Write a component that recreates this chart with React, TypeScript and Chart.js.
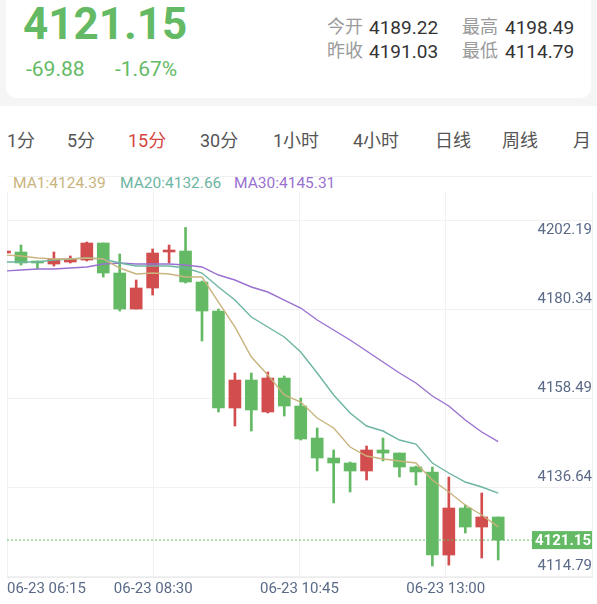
import React, { useEffect, useRef } from "react";
import { Chart, registerables } from "chart.js";

Chart.register(...registerables);

// ---------- data ----------
const DATE = "06-23";
const TIMES = [
  "06:15", "06:30", "06:45", "07:00", "07:15", "07:30", "07:45", "08:00", "08:15", "08:30",
  "08:45", "09:00", "09:15", "09:30", "09:45", "10:00", "10:15", "10:30", "10:45", "11:00",
  "11:15", "11:30", "11:45", "12:00", "12:15", "12:30", "12:45", "13:00", "13:15", "13:30", "13:45",
];
const OPEN = [
  4191.63, 4191.88, 4189.67, 4188.93, 4189.42, 4189.91, 4194.09, 4186.72, 4177.88, 4183.04,
  4191.88, 4192.12, 4184.51, 4177.39, 4153.58, 4160.45, 4152.6, 4160.94, 4154.07, 4146.21,
  4141.3, 4140.08, 4138.11, 4143.27, 4142.53, 4139.09, 4137.87, 4117.49, 4129.03, 4124.36, 4126.82,
];
const CLOSE = [
  4191.95, 4189.18, 4189.18, 4190.16, 4190.16, 4194.09, 4186.72, 4177.88, 4183.04, 4191.63,
  4192.12, 4184.51, 4177.39, 4153.58, 4160.45, 4153.09, 4160.94, 4154.07, 4145.97, 4141.3,
  4140.08, 4138.11, 4143.27, 4142.53, 4139.09, 4137.87, 4117.49, 4129.03, 4124.36, 4126.82, 4121.15,
];
const HIGH = [
  4192.2, 4193.6, 4189.67, 4191.88, 4190.9, 4194.33, 4194.09, 4191.39, 4185.0, 4192.62,
  4193.6, 4197.9, 4184.76, 4177.88, 4162.17, 4162.17, 4162.42, 4161.44, 4156.03, 4148.67,
  4143.27, 4140.32, 4144.25, 4146.21, 4142.53, 4139.33, 4139.09, 4136.64, 4129.76, 4132.71, 4126.82,
];
const LOW = [
  4191.4, 4188.69, 4187.7, 4188.44, 4189.18, 4189.67, 4185.74, 4177.39, 4177.88, 4181.32,
  4189.18, 4184.27, 4170.03, 4152.6, 4149.16, 4147.93, 4152.35, 4151.61, 4145.72, 4138.11,
  4130.26, 4132.96, 4135.9, 4140.57, 4136.64, 4134.67, 4114.79, 4115.0, 4122.89, 4116.75, 4116.26,
];
const MA1 = [
  4191.14, 4190.9, 4190.41, 4190.16, 4190.16, 4190.41, 4190.16, 4187.95, 4186.48, 4186.72,
  4186.48, 4185.74, 4185.74, 4179.6, 4173.47, 4166.1, 4161.68, 4156.77, 4155.05, 4151.12,
  4148.67, 4144.0, 4141.79, 4141.06, 4140.57, 4140.08, 4135.9, 4132.96, 4129.76, 4127.31, 4124.39,
];
const MA20 = [
  4189.42, 4189.42, 4189.42, 4189.91, 4190.16, 4190.41, 4190.16, 4189.18, 4188.44, 4188.44,
  4188.44, 4187.95, 4186.72, 4183.29, 4180.09, 4175.92, 4173.47, 4171.01, 4167.33, 4162.17,
  4156.77, 4152.35, 4149.16, 4147.93, 4145.72, 4144.74, 4140.08, 4137.62, 4135.41, 4134.18, 4132.66,
];
const MA30 = [
  4187.21, 4187.46, 4187.7, 4187.7, 4187.95, 4188.2, 4188.93, 4189.18, 4188.93, 4188.93,
  4188.93, 4188.69, 4188.2, 4186.23, 4185.0, 4183.29, 4182.06, 4180.09, 4178.13, 4175.18,
  4172.73, 4170.27, 4167.57, 4164.87, 4162.17, 4159.72, 4156.53, 4154.07, 4150.63, 4147.69, 4145.31,
];
const Y_TICKS = [4114.79, 4136.64, 4158.49, 4180.34, 4202.19];
const TABS = ["1分", "5分", "15分", "30分", "1小时", "4小时", "日线", "周线", "月"];
const ACTIVE_TAB = "15分";
const PRICE = "4121.15";
const CHANGE = "-69.88";
const CHANGE_PCT = "-1.67%";
const STATS = [
  ["今开", "4189.22", "最高", "4198.49"],
  ["昨收", "4191.03", "最低", "4114.79"],
];

// ---------- view / style ----------
const X_MIN = 0.15;
const X_MAX = 35.7;
const Y_MIN = 4112.09;
const Y_MAX = 4206.61;
const GRID_SHIFT = 2.455;
const GREEN = "#64ba64";
const RED = "#d24d4d";
const TAN = "#c9b47e";
const TEAL = "#6db5a3";
const PURPLE = "#9a71d1";
const AXIS = "#5a6a87";
const GRID = "#f1f1f1";
const FONT = "Roboto, 'Noto Sans CJK SC', sans-serif";
const TAB_X = [7, 67, 128, 200, 273, 353, 435, 502, 573];

const LAST = CLOSE[CLOSE.length - 1];

const lastPricePlugin = {
  id: "lastPrice",
  afterDatasetsDraw(chart: any) {
    const { ctx, chartArea, scales } = chart;
    const y = scales.y.getPixelForValue(LAST);
    ctx.save();
    ctx.font = "bold 15px Roboto";
    const text = LAST.toFixed(2);
    const w = ctx.measureText(text).width + 4;
    ctx.fillStyle = GREEN;
    ctx.fillRect(chartArea.right - w, y - 9, w, 18);
    ctx.fillStyle = "#ffffff";
    ctx.textAlign = "right";
    ctx.textBaseline = "middle";
    ctx.fillText(text, chartArea.right - 1, y + 1);
    ctx.restore();
  },
};

function KChart() {
  const ref = useRef<HTMLCanvasElement>(null);
  useEffect(() => {
    const colors = OPEN.map((o, i) => (CLOSE[i] >= o ? RED : GREEN));
    const line = (label: string, data: number[], color: string) => ({
      type: "line" as const,
      label,
      data: data.map((v, i) => ({ x: i, y: v })),
      borderColor: color,
      borderWidth: 1.4,
      pointRadius: 0,
      tension: 0,
      order: 0,
    });
    const chart = new Chart(ref.current as HTMLCanvasElement, {
      type: "bar",
      data: {
        datasets: [
          line("MA1", MA1, TAN),
          line("MA20", MA20, TEAL),
          line("MA30", MA30, PURPLE),
          {
            type: "line",
            label: "last",
            data: [
              { x: X_MIN, y: LAST },
              { x: X_MAX, y: LAST },
            ],
            borderColor: GREEN,
            borderWidth: 1,
            borderDash: [2, 2],
            pointRadius: 0,
            order: 0,
          },
          {
            type: "bar",
            label: "wick",
            data: LOW.map((l, i) => ({ x: i, y: [l, HIGH[i]] })),
            backgroundColor: colors,
            barThickness: 2,
            grouped: false,
            order: 2,
          },
          {
            type: "bar",
            label: "body",
            data: OPEN.map((o, i) => ({ x: i, y: [o, CLOSE[i]] })),
            backgroundColor: colors,
            barThickness: 12,
            minBarLength: 2,
            grouped: false,
            order: 1,
          },
        ] as any,
      },
      options: {
        animation: false,
        responsive: false,
        maintainAspectRatio: false,
        layout: { padding: { top: 16, left: 7, right: 5, bottom: 0 } },
        plugins: { legend: { display: false }, tooltip: { enabled: false } },
        scales: {
          x: {
            type: "linear",
            min: X_MIN,
            max: X_MAX,
            offset: false,
            grid: { offset: false, color: GRID, drawTicks: false },
            border: { color: "#ececec" },
            afterBuildTicks(scale: any) {
              const step = (X_MAX - X_MIN) / 4;
              scale.ticks = [0, 1, 2, 3, 4].map((k) => ({ value: X_MIN + k * step }));
            },
            afterFit(scale: any) {
              scale.height = 27;
              scale.paddingLeft = 0;
              scale.paddingRight = 0;
            },
            ticks: {
              autoSkip: false,
              maxRotation: 0,
              align: "inner",
              padding: 3,
              color: AXIS,
              font: { family: FONT, size: 15 },
              callback: (value: any, index: number) =>
                index < 4 ? `${DATE} ${TIMES[Math.round(Number(value))]}` : "",
            },
          },
          y: {
            type: "linear",
            position: "right",
            min: Y_MIN,
            max: Y_MAX,
            grid: { display: false },
            border: { display: false },
            afterBuildTicks(scale: any) {
              scale.ticks = Y_TICKS.map((v) => ({ value: v }));
            },
            afterFit(scale: any) {
              scale.width = 0;
              scale.paddingTop = 0;
              scale.paddingBottom = 0;
            },
            ticks: {
              mirror: true,
              padding: 0,
              color: AXIS,
              font: { family: FONT, size: 15, lineHeight: 1.34 },
              callback: (value: any) => {
                const t = Number(value).toFixed(2);
                return Number(value) === Y_TICKS[Y_TICKS.length - 1] ? ["", "", t] : t;
              },
            },
          },
          yGrid: {
            type: "linear",
            position: "right",
            min: Y_MIN,
            max: Y_MAX,
            grid: { color: GRID, drawTicks: false },
            border: { display: false },
            afterBuildTicks(scale: any) {
              scale.ticks = Y_TICKS.map((v) => ({ value: v - GRID_SHIFT }));
            },
            afterFit(scale: any) {
              scale.width = 0;
              scale.paddingTop = 0;
              scale.paddingBottom = 0;
            },
            ticks: { display: false },
          },
        } as any,
      },
      plugins: [lastPricePlugin],
    });
    return () => chart.destroy();
  }, []);
  return (
    <canvas
      ref={ref}
      width={597}
      height={428}
      style={{ position: "absolute", left: 0, top: 176, width: 597, height: 428, display: "block" }}
    />
  );
}

const abs = (left: number, centerY: number, size: number, extra: any = {}) => ({
  position: "absolute" as const,
  left,
  top: centerY - size / 2,
  fontSize: size,
  lineHeight: `${size}px`,
  whiteSpace: "nowrap" as const,
  fontFamily: FONT,
  ...extra,
});

export default function App() {
  const legend = [
    { text: `MA1:${MA1[MA1.length - 1].toFixed(2)}`, color: TAN, left: 13 },
    { text: `MA20:${MA20[MA20.length - 1].toFixed(2)}`, color: TEAL, left: 120 },
    { text: `MA30:${MA30[MA30.length - 1].toFixed(2)}`, color: PURPLE, left: 234 },
  ];
  return (
    <div
      style={{
        position: "absolute",
        left: 0,
        top: 0,
        width: 597,
        height: 604,
        overflow: "hidden",
        background: "#ffffff",
        fontFamily: FONT,
      }}
    >
      <div style={{ position: "absolute", left: 0, top: 0, width: 597, height: 106, background: "#f5f5f5" }} />
      <div
        style={{
          position: "absolute",
          left: 6,
          top: -20,
          width: 585,
          height: 118,
          background: "#ffffff",
          borderRadius: 10,
        }}
      />
      <div style={abs(23, 24, 44, { color: GREEN, fontWeight: 700 })}>{PRICE}</div>
      <div style={abs(26, 69, 21, { color: GREEN })}>{CHANGE}</div>
      <div style={abs(115, 69, 21, { color: GREEN })}>{CHANGE_PCT}</div>
      {STATS.map((row, r) => (
        <React.Fragment key={r}>
          <div style={abs(327, 27 + r * 24, 18, { color: "#9a9a9a" })}>{row[0]}</div>
          <div style={abs(369, 27 + r * 24, 19, { color: "#333333" })}>{row[1]}</div>
          <div style={abs(462, 27 + r * 24, 18, { color: "#9a9a9a" })}>{row[2]}</div>
          <div style={abs(505, 27 + r * 24, 19, { color: "#333333" })}>{row[3]}</div>
        </React.Fragment>
      ))}
      {TABS.map((t, i) => (
        <div key={t} style={abs(TAB_X[i], 141, 18, { color: t === ACTIVE_TAB ? "#d64541" : "#555555" })}>
          {t}
        </div>
      ))}
      <div style={{ position: "absolute", left: 7, top: 176, width: 585, height: 1, background: "#f0f0f0" }} />
      {legend.map((l) => (
        <div key={l.text} style={abs(l.left, 184, 15.5, { color: l.color })}>
          {l.text}
        </div>
      ))}
      <KChart />
    </div>
  );
}
